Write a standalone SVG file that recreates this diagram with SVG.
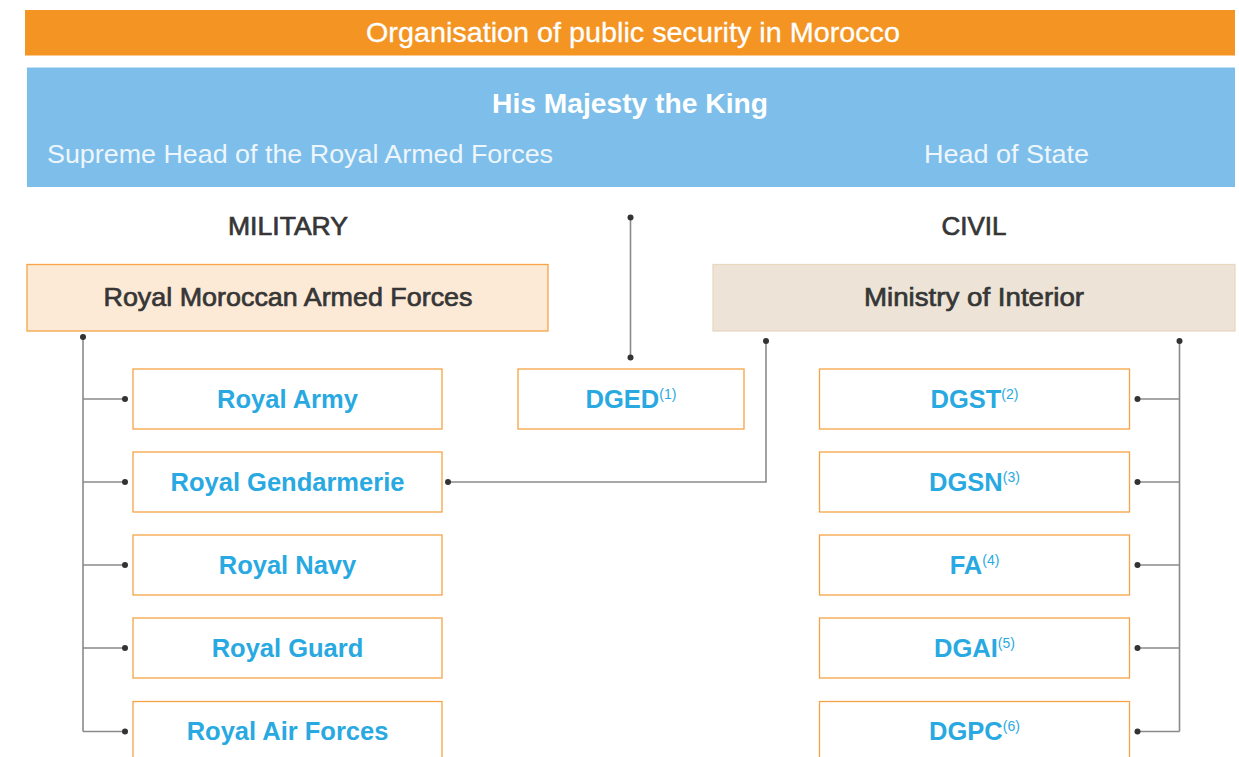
<svg xmlns="http://www.w3.org/2000/svg" width="1239" height="757" viewBox="0 0 1239 757">
<style>
.t{font-family:"Liberation Sans",Arial,sans-serif}
.box{fill:#fff;stroke:#F6A445;stroke-width:1.3}
.lbl{font-family:"Liberation Sans",Arial,sans-serif;font-weight:bold;font-size:25.5px;fill:#29A9E1;text-anchor:middle}
.sup{font-size:14px;font-weight:normal}
.ln{fill:none;stroke:#8a8a8a;stroke-width:1.6}
.dot{fill:#333}
.hdr{font-family:"Liberation Sans",Arial,sans-serif;font-size:26px;fill:#363636;stroke:#363636;stroke-width:0.7;text-anchor:middle}
</style>
<rect width="1239" height="757" fill="#fff"/>
<g id="title">
<rect x="25" y="10" width="1210" height="45.5" fill="#F39423"/>
<text class="t" x="633" y="42" font-size="28" fill="#fff" stroke="#fff" stroke-width="0.3" text-anchor="middle" textLength="534" lengthAdjust="spacingAndGlyphs">Organisation of public security in Morocco</text>
</g>
<g id="king">
<rect x="27" y="67.5" width="1208" height="119.5" fill="#7DBFEA"/>
<text class="t" x="630" y="113" font-size="28" font-weight="bold" fill="#fff" text-anchor="middle" textLength="276" lengthAdjust="spacingAndGlyphs">His Majesty the King</text>
<text class="t" x="47" y="163" font-size="25" fill="#EEF6FC" textLength="506" lengthAdjust="spacingAndGlyphs">Supreme Head of the Royal Armed Forces</text>
<text class="t" x="924" y="163" font-size="25" fill="#EEF6FC" textLength="165" lengthAdjust="spacingAndGlyphs">Head of State</text>
</g>
<g id="military-label"><text class="hdr" x="288" y="235" textLength="120" lengthAdjust="spacingAndGlyphs">MILITARY</text></g>
<g id="civil-label"><text class="hdr" x="974" y="235" textLength="65" lengthAdjust="spacingAndGlyphs">CIVIL</text></g>
<g id="rmaf">
<rect x="27" y="264.5" width="521" height="66.5" fill="#FDEAD6" stroke="#F6A445" stroke-width="1.3"/>
<text class="hdr" x="288" y="306" textLength="369" lengthAdjust="spacingAndGlyphs">Royal Moroccan Armed Forces</text>
</g>
<g id="interior">
<rect x="713" y="264.5" width="522" height="66.5" fill="#EDE4D7" stroke="#E8D8C0" stroke-width="1.3"/>
<text class="hdr" x="974" y="306" textLength="220" lengthAdjust="spacingAndGlyphs">Ministry of Interior</text>
</g>
<g id="dged">
<rect class="box" x="518" y="369" width="226" height="60"/>
<text class="lbl" x="631" y="408">DGED<tspan class="sup" dy="-9">(1)</tspan></text>
</g>
<g id="royal-army">
<rect class="box" x="133" y="369" width="309" height="60"/>
<text class="lbl" x="287.5" y="408">Royal Army</text>
</g>
<g id="royal-gendarmerie">
<rect class="box" x="133" y="452" width="309" height="60"/>
<text class="lbl" x="287.5" y="491">Royal Gendarmerie</text>
</g>
<g id="royal-navy">
<rect class="box" x="133" y="535" width="309" height="60"/>
<text class="lbl" x="287.5" y="574">Royal Navy</text>
</g>
<g id="royal-guard">
<rect class="box" x="133" y="618" width="309" height="60"/>
<text class="lbl" x="287.5" y="657">Royal Guard</text>
</g>
<g id="royal-air-forces">
<rect class="box" x="133" y="701.5" width="309" height="62"/>
<text class="lbl" x="287.5" y="740">Royal Air Forces</text>
</g>
<g id="dgst">
<rect class="box" x="819.5" y="369" width="310" height="60"/>
<text class="lbl" x="974.5" y="408">DGST<tspan class="sup" dy="-9">(2)</tspan></text>
</g>
<g id="dgsn">
<rect class="box" x="819.5" y="452" width="310" height="60"/>
<text class="lbl" x="974.5" y="491">DGSN<tspan class="sup" dy="-9">(3)</tspan></text>
</g>
<g id="fa">
<rect class="box" x="819.5" y="535" width="310" height="60"/>
<text class="lbl" x="974.5" y="574">FA<tspan class="sup" dy="-9">(4)</tspan></text>
</g>
<g id="dgai">
<rect class="box" x="819.5" y="618" width="310" height="60"/>
<text class="lbl" x="974.5" y="657">DGAI<tspan class="sup" dy="-9">(5)</tspan></text>
</g>
<g id="dgpc">
<rect class="box" x="819.5" y="701.5" width="310" height="62"/>
<text class="lbl" x="974.5" y="740">DGPC<tspan class="sup" dy="-9">(6)</tspan></text>
</g>
<g id="connectors">
<path class="ln" d="M83 337V731.5M83 399H125M83 482H125M83 565H125M83 648H125M83 731.5H125"/>
<path class="ln" d="M1179.5 341V731.5M1179.5 399H1137.5M1179.5 482H1137.5M1179.5 565H1137.5M1179.5 648H1137.5M1179.5 731.5H1137.5"/>
<path class="ln" d="M448 482H766V341"/>
<path class="ln" d="M630.5 217.5V357.5"/>
<circle class="dot" cx="83" cy="337" r="3"/>
<circle class="dot" cx="125" cy="399" r="3"/>
<circle class="dot" cx="125" cy="482" r="3"/>
<circle class="dot" cx="125" cy="565" r="3"/>
<circle class="dot" cx="125" cy="648" r="3"/>
<circle class="dot" cx="125" cy="731.5" r="3"/>
<circle class="dot" cx="1179.5" cy="341" r="3"/>
<circle class="dot" cx="1137.5" cy="399" r="3"/>
<circle class="dot" cx="1137.5" cy="482" r="3"/>
<circle class="dot" cx="1137.5" cy="565" r="3"/>
<circle class="dot" cx="1137.5" cy="648" r="3"/>
<circle class="dot" cx="1137.5" cy="731.5" r="3"/>
<circle class="dot" cx="448" cy="482" r="3"/>
<circle class="dot" cx="766" cy="341" r="3"/>
<circle class="dot" cx="630.5" cy="217.5" r="3"/>
<circle class="dot" cx="630.5" cy="357.5" r="3"/>
</g>
</svg>
